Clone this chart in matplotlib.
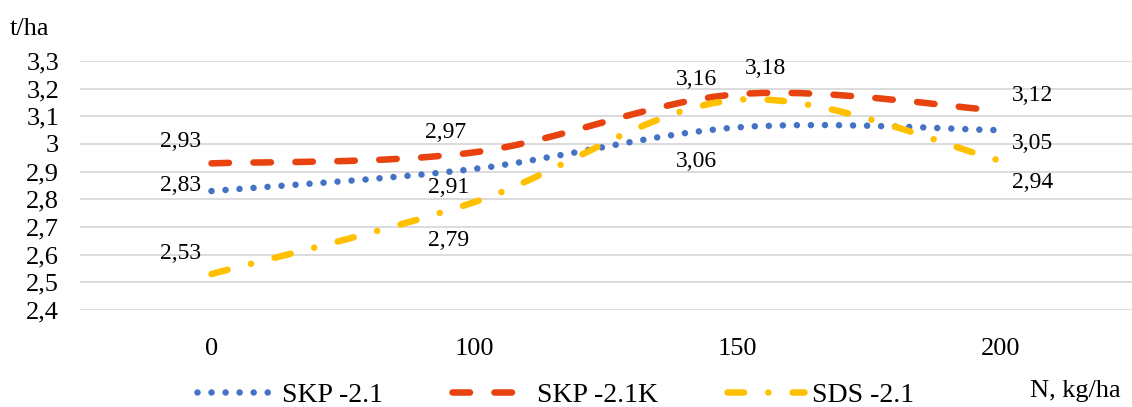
import matplotlib.pyplot as plt
from matplotlib.path import Path
from matplotlib.patches import PathPatch
from matplotlib.lines import Line2D

plt.rcParams['font.family'] = ['Liberation Serif', 'DejaVu Serif']
plt.rcParams['lines.scale_dashes'] = False

# норма азота, кг/га
doses = ['0', '100', '150', '200']
skp = [2.83, 2.91, 3.06, 3.05]
skp_k = [2.93, 2.97, 3.18, 3.12]
sds = [2.53, 2.79, 3.16, 2.94]
y_ticks = [2.4, 2.5, 2.6, 2.7, 2.8, 2.9, 3.0, 3.1, 3.2, 3.3]

# сдвиг подписей от точки, px
off_skp = [(-31, 6), (-26, -19), (-41, -34), (32, -13)]
off_skp_k = [(-31, 22), (-29, 20), (28, 26), (32, 15)]
off_sds = [(-31, 21), (-26, -38), (-41, 20), (32, -22)]


def comma(v, fmt):
    return format(v, fmt).replace('.', ',')


def smooth(xs, ys):
    # сглаженная линия как в экселе (кривые Безье)
    verts = [(xs[0], ys[0])]
    codes = [Path.MOVETO]
    n = len(xs)
    for i in range(n - 1):
        a = i - 1 if i > 0 else i
        b = i + 2 if i + 2 < n else i + 1
        c1 = (xs[i] + (xs[i + 1] - xs[a]) / 6, ys[i] + (ys[i + 1] - ys[a]) / 6)
        c2 = (xs[i + 1] - (xs[b] - xs[i]) / 6, ys[i + 1] - (ys[b] - ys[i]) / 6)
        verts += [c1, c2, (xs[i + 1], ys[i + 1])]
        codes += [Path.CURVE4] * 3
    return Path(verts, codes)


fig = plt.figure(figsize=(11.32, 4.07), dpi=100)
ax = fig.add_axes([80 / 1132, 1 - 310 / 407, 1 - 80 / 1132, 249 / 407])

x = list(range(len(doses)))
lw = 4.7
series = [
    (skp, off_skp, '#4472C4', (0, (0.01, 10.1)), 'SKP -2.1'),
    (skp_k, off_skp_k, '#E8420E', (0, (12.6, 17.6)), 'SKP -2.1K'),
    (sds, off_sds, '#FFC000', (0, (11.9, 17.5, 0.01, 17.5)), 'SDS -2.1'),
]

handles = []
for vals, offs, col, ls, name in series:
    ax.add_patch(PathPatch(smooth(x, vals), fill=False, edgecolor=col, lw=lw,
                           linestyle=ls, capstyle='round', zorder=3))
    for xi, v, (dx, dy) in zip(x, vals, offs):
        ax.annotate(comma(v, '.2f'), (xi, v), xytext=(dx, dy), textcoords='offset pixels',
                    ha='center', va='center', fontsize=17)
    handles.append(Line2D([], [], color=col, lw=lw, linestyle=ls,
                          dash_capstyle='round', solid_capstyle='round', label=name))

ax.set_xlim(-0.5, 3.5)
ax.set_ylim(2.4, 3.3)
ax.set_yticks(y_ticks)
ax.set_yticklabels([comma(t, 'g') for t in y_ticks])
ax.set_xticks(x)
ax.set_xticklabels(doses)
ax.tick_params(length=0, labelsize=19)
ax.tick_params(axis='x', pad=20)
ax.tick_params(axis='y', pad=15)
ax.grid(axis='y', color='#D9D9D9', lw=1.3)
ax.set_axisbelow(True)
for s in ax.spines.values():
    s.set_visible(False)

fig.text(10 / 1132, 1 - 35 / 407, 't/ha', fontsize=19, va='baseline')
fig.text(1030 / 1132, 1 - 397 / 407, 'N, kg/ha', fontsize=19, va='baseline')

fig.legend(handles=handles, loc='center left', bbox_to_anchor=(197 / 1132, 1 - 395 / 407),
           ncol=3, frameon=False, fontsize=20, handlelength=2.75, handletextpad=0.3,
           columnspacing=2.5, borderpad=0, borderaxespad=0)

fig.savefig('out.png', dpi=100)
